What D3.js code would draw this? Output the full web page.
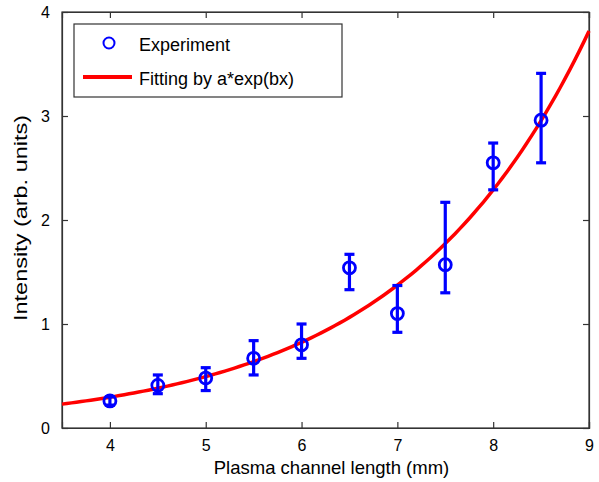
<!DOCTYPE html>
<html>
<head>
<meta charset="utf-8">
<script src="https://cdn.jsdelivr.net/npm/d3@7"></script>
<style>
  html, body { margin: 0; padding: 0; background: #fff; }
  svg text { font-family: "Liberation Sans", Arial, sans-serif; fill: #000; }
</style>
</head>
<body>
<svg id="chart" width="599" height="482"></svg>
<script>
// Measured intensity vs plasma channel length
const lengths   = [4, 4.5, 5, 5.5, 6, 6.5, 7, 7.5, 8, 8.5];
const intensity = [0.26, 0.41, 0.48, 0.67, 0.80, 1.54, 1.10, 1.57, 2.55, 2.96];
const errLow    = [0.22, 0.33, 0.36, 0.51, 0.67, 1.33, 0.92, 1.30, 2.29, 2.55];
const errHigh   = [0.30, 0.51, 0.58, 0.84, 1.00, 1.67, 1.37, 2.17, 2.74, 3.41];

// Exponential fit parameters: I = a * exp(b x)
const fitA = [0.0384];
const fitB = [0.511];

const xTicks = [4, 5, 6, 7, 8, 9];
const yTicks = [0, 1, 2, 3, 4];
const legendLabels = ["Experiment", "Fitting by a*exp(bx)"];

const svg = d3.select("#chart");
const m = { left: 62, right: 10, top: 12, bottom: 54 };
const W = 599, H = 482;

const x = d3.scaleLinear().domain([3.5, 9]).range([m.left, W - m.right]);
const y = d3.scaleLinear().domain([0, 4]).range([H - m.bottom, m.top]);

const blue = "#0000ff", red = "#ff0000", axisCol = "#333";

// Frame
svg.append("rect")
  .attr("x", x(3.5)).attr("y", y(4))
  .attr("width", x(9) - x(3.5)).attr("height", y(0) - y(4))
  .attr("fill", "none").attr("stroke", axisCol).attr("stroke-width", 1.2);

// Axes with inward ticks (bottom/left) and mirrored ticks (top/right)
const fontSize = 16;
svg.append("g").attr("transform", `translate(0,${y(0)})`)
  .call(d3.axisBottom(x).tickValues(xTicks).tickSize(-6).tickPadding(12).tickFormat(d3.format("d")));
svg.append("g").attr("transform", `translate(${x(3.5)},0)`)
  .call(d3.axisLeft(y).tickValues(yTicks).tickSize(-6).tickPadding(12).tickFormat(d3.format("d")));
svg.append("g").attr("transform", `translate(0,${y(4)})`)
  .call(d3.axisTop(x).tickValues(xTicks).tickSize(-6).tickFormat(""));
svg.append("g").attr("transform", `translate(${x(9)},0)`)
  .call(d3.axisRight(y).tickValues(yTicks).tickSize(-6).tickFormat(""));

svg.selectAll(".domain").attr("stroke", axisCol).attr("stroke-width", 1.2);
svg.selectAll(".tick line").attr("stroke", axisCol).attr("stroke-width", 1.2);
svg.selectAll(".tick text").attr("font-size", fontSize)
  .style("font-family", "'Liberation Sans', Arial, sans-serif").attr("fill", "#000");

// Axis titles
svg.append("text")
  .attr("x", (x(3.5) + x(9)) / 2 + 6).attr("y", 474)
  .attr("text-anchor", "middle").attr("font-size", 18.5)
  .text("Plasma channel length (mm)");
svg.append("text")
  .attr("transform", `translate(27,${(y(0) + y(4)) / 2 - 2}) rotate(-90)`)
  .attr("text-anchor", "middle").attr("font-size", 18)
  .attr("textLength", 206).attr("lengthAdjust", "spacingAndGlyphs")
  .text("Intensity (arb. units)");

// Fit curve
const plot = svg.append("g");
const curveX = d3.range(3.5, 9.0001, 0.05);
plot.append("path")
  .datum(curveX)
  .attr("fill", "none").attr("stroke", red).attr("stroke-width", 3.5)
  .attr("d", d3.line().x(d => x(d)).y(d => y(fitA[0] * Math.exp(fitB[0] * d))));

// Error bars
const data = lengths.map((l, i) => ({ l, v: intensity[i], lo: errLow[i], hi: errHigh[i] }));
const capW = 5;
const eb = plot.selectAll(".eb").data(data).join("g").attr("class", "eb")
  .attr("stroke", blue).attr("stroke-width", 3.2).attr("fill", "none");
eb.append("line").attr("x1", d => x(d.l)).attr("x2", d => x(d.l))
  .attr("y1", d => y(d.lo)).attr("y2", d => y(d.hi));
eb.append("line").attr("x1", d => x(d.l) - capW).attr("x2", d => x(d.l) + capW)
  .attr("y1", d => y(d.lo)).attr("y2", d => y(d.lo));
eb.append("line").attr("x1", d => x(d.l) - capW).attr("x2", d => x(d.l) + capW)
  .attr("y1", d => y(d.hi)).attr("y2", d => y(d.hi));
eb.append("circle").attr("cx", d => x(d.l)).attr("cy", d => y(d.v)).attr("r", 6)
  .attr("stroke-width", 2.8);

// Legend
const lg = svg.append("g");
lg.append("rect").attr("x", 74).attr("y", 24).attr("width", 268).attr("height", 73)
  .attr("fill", "#fff").attr("stroke", axisCol).attr("stroke-width", 1.2);
lg.append("circle").attr("cx", 109).attr("cy", 43).attr("r", 5.5)
  .attr("fill", "none").attr("stroke", blue).attr("stroke-width", 2);
lg.append("line").attr("x1", 83).attr("x2", 132).attr("y1", 77).attr("y2", 77)
  .attr("stroke", red).attr("stroke-width", 3.8);
lg.selectAll(".lt").data(legendLabels).join("text").attr("class", "lt")
  .attr("x", 139).attr("y", (d, i) => 51 + i * 34)
  .attr("font-size", 18).text(d => d);
</script>
</body>
</html>
